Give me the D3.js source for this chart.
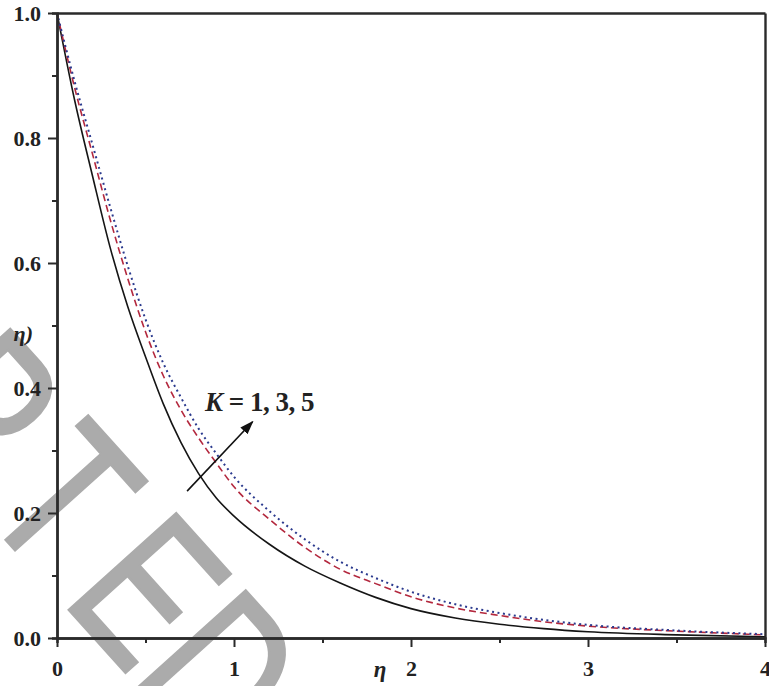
<!DOCTYPE html>
<html>
<head>
<meta charset="utf-8">
<script src="https://cdn.jsdelivr.net/npm/d3@7"></script>
<style>
  html, body { margin: 0; padding: 0; background: #fff; }
  svg { display: block; }
  .tick text { font-family: "Liberation Serif", "Times New Roman", serif; font-weight: bold; font-size: 22px; fill: #222; }
</style>
</head>
<body>
<svg width="769" height="686"></svg>
<script>
// eta values and the three profiles
const eta = [0, 0.1, 0.2, 0.3, 0.4, 0.5, 0.6, 0.7, 0.8, 0.9, 1.0, 1.2, 1.4, 1.6, 1.8, 2.0, 2.25, 2.5, 2.75, 3.0, 3.5, 4.0];
const k1 = [1.0, 0.86, 0.74, 0.625, 0.53, 0.45, 0.375, 0.313, 0.263, 0.224, 0.195, 0.150, 0.115, 0.088, 0.065, 0.047, 0.032, 0.022, 0.015, 0.010, 0.005, 0.002];
const k3 = [1.0, 0.88, 0.775, 0.67, 0.575, 0.49, 0.42, 0.365, 0.32, 0.28, 0.242, 0.19, 0.145, 0.11, 0.087, 0.066, 0.048, 0.036, 0.026, 0.019, 0.011, 0.005];
const k5 = [1.0, 0.89, 0.79, 0.69, 0.595, 0.51, 0.44, 0.385, 0.335, 0.295, 0.258, 0.203, 0.158, 0.122, 0.096, 0.074, 0.054, 0.04, 0.029, 0.021, 0.012, 0.006];
const seriesNames = ['K = 1', 'K = 3', 'K = 5'];
const xTicks = [0, 1, 2, 3, 4];
const xMinor = [0.5, 1.5, 2.5, 3.5];
const yTicks = [0, 0.2, 0.4, 0.6, 0.8, 1.0];
const yMinor = [0.1, 0.3, 0.5, 0.7, 0.9];

const svg = d3.select('svg');
const serif = '"Liberation Serif", "Times New Roman", serif';

// faint watermark behind everything (letter offsets along its slanted baseline)
const wmLetters = 'ACCEPTED';
const wmAlong = [-200, -90, 20, 130, 238, 364, 486, 590];
const wmScale = 0.75;
svg.append('g')
  .attr('transform', `rotate(48) scale(${wmScale},1)`)
  .append('text')
  .attr('x', wmAlong.map((a) => (a / wmScale).toFixed(1)).join(' '))
  .attr('y', 357)
  .attr('font-family', '"Liberation Sans", Arial, sans-serif')
  .attr('font-size', 210)
  .attr('fill', '#ababab')
  .attr('stroke', '#ababab')
  .attr('stroke-width', 2.5)
  .text(wmLetters);

const x = d3.scaleLinear().domain([0, 4]).range([57, 765]);
const y = d3.scaleLinear().domain([0, 1]).range([638, 13]);

const line = d3.line()
  .x((d) => x(d[0]))
  .y((d) => y(d[1]))
  .curve(d3.curveMonotoneX);

const styles = [
  { color: '#151515', width: 1.6, dash: null },
  { color: '#b3283e', width: 1.6, dash: '7,4' },
  { color: '#2b3a8e', width: 2, dash: '2,3.5' }
];
[k1, k3, k5].forEach((vals, i) => {
  svg.append('path')
    .datum(eta.map((e, j) => [e, vals[j]]))
    .attr('fill', 'none')
    .attr('stroke', styles[i].color)
    .attr('stroke-width', styles[i].width)
    .attr('stroke-dasharray', styles[i].dash)
    .attr('class', 'series')
    .attr('data-name', seriesNames[i])
    .attr('d', line);
});

// axes
const axisColor = '#2a2a2a';
function styleAxis(g) {
  g.select('.domain').attr('stroke', axisColor).attr('stroke-width', 2.4);
  g.selectAll('.tick line').attr('stroke', axisColor).attr('stroke-width', 2);
}
svg.append('g')
  .attr('transform', `translate(0,${y(0)})`)
  .call(d3.axisBottom(x).tickValues(xMinor).tickSize(5).tickFormat(''))
  .call(styleAxis);
svg.append('g')
  .attr('transform', `translate(${x(0)},0)`)
  .call(d3.axisLeft(y).tickValues(yMinor).tickSize(5).tickFormat(''))
  .call(styleAxis);
svg.append('g')
  .attr('transform', `translate(0,${y(0)})`)
  .call(d3.axisBottom(x).tickValues(xTicks).tickSize(9).tickSizeOuter(0).tickPadding(13).tickFormat(d3.format('d')))
  .call(styleAxis);
svg.append('g')
  .attr('transform', `translate(${x(0)},0)`)
  .call(d3.axisLeft(y).tickValues(yTicks).tickSize(9).tickSizeOuter(0).tickPadding(7).tickFormat(d3.format('.1f')))
  .call(styleAxis);
svg.append('g')
  .attr('transform', `translate(0,${y(1)})`)
  .call(d3.axisTop(x).tickValues([]).tickSizeOuter(0))
  .call(styleAxis);
svg.append('g')
  .attr('transform', `translate(${x(4)},0)`)
  .call(d3.axisRight(y).tickValues([]).tickSizeOuter(0))
  .call(styleAxis);

// axis titles
svg.append('text')
  .attr('x', 380).attr('y', 677)
  .attr('text-anchor', 'middle')
  .attr('font-family', serif).attr('font-size', 23)
  .attr('font-style', 'italic').attr('font-weight', 'bold')
  .attr('fill', '#222')
  .text('η');
svg.append('text')
  .attr('x', 33).attr('y', 341)
  .attr('text-anchor', 'end')
  .attr('font-family', serif).attr('font-size', 22)
  .attr('font-style', 'italic').attr('font-weight', 'bold')
  .attr('fill', '#222')
  .text('η)');

// annotation: arrow and label
const arrowFrom = [0.735, 0.235];
const arrowTo = [1.105, 0.346];
svg.append('defs').append('marker')
  .attr('id', 'head')
  .attr('viewBox', '0 0 10 10')
  .attr('refX', 9).attr('refY', 5)
  .attr('markerWidth', 14).attr('markerHeight', 14)
  .attr('markerUnits', 'userSpaceOnUse')
  .attr('orient', 'auto')
  .append('path')
  .attr('d', 'M0,1.5 L10,5 L0,8.5 Z')
  .attr('fill', '#111');
svg.append('line')
  .attr('x1', x(arrowFrom[0])).attr('y1', y(arrowFrom[1]))
  .attr('x2', x(arrowTo[0])).attr('y2', y(arrowTo[1]))
  .attr('stroke', '#111').attr('stroke-width', 1.6)
  .attr('marker-end', 'url(#head)');

const label = svg.append('text')
  .attr('x', 205).attr('y', 411)
  .attr('font-family', serif).attr('font-size', 27)
  .attr('font-weight', 'bold').attr('fill', '#222')
  .attr('letter-spacing', -0.5);
label.append('tspan').attr('font-style', 'italic').text('K');
label.append('tspan').text(' = 1, 3, 5');
</script>
</body>
</html>
